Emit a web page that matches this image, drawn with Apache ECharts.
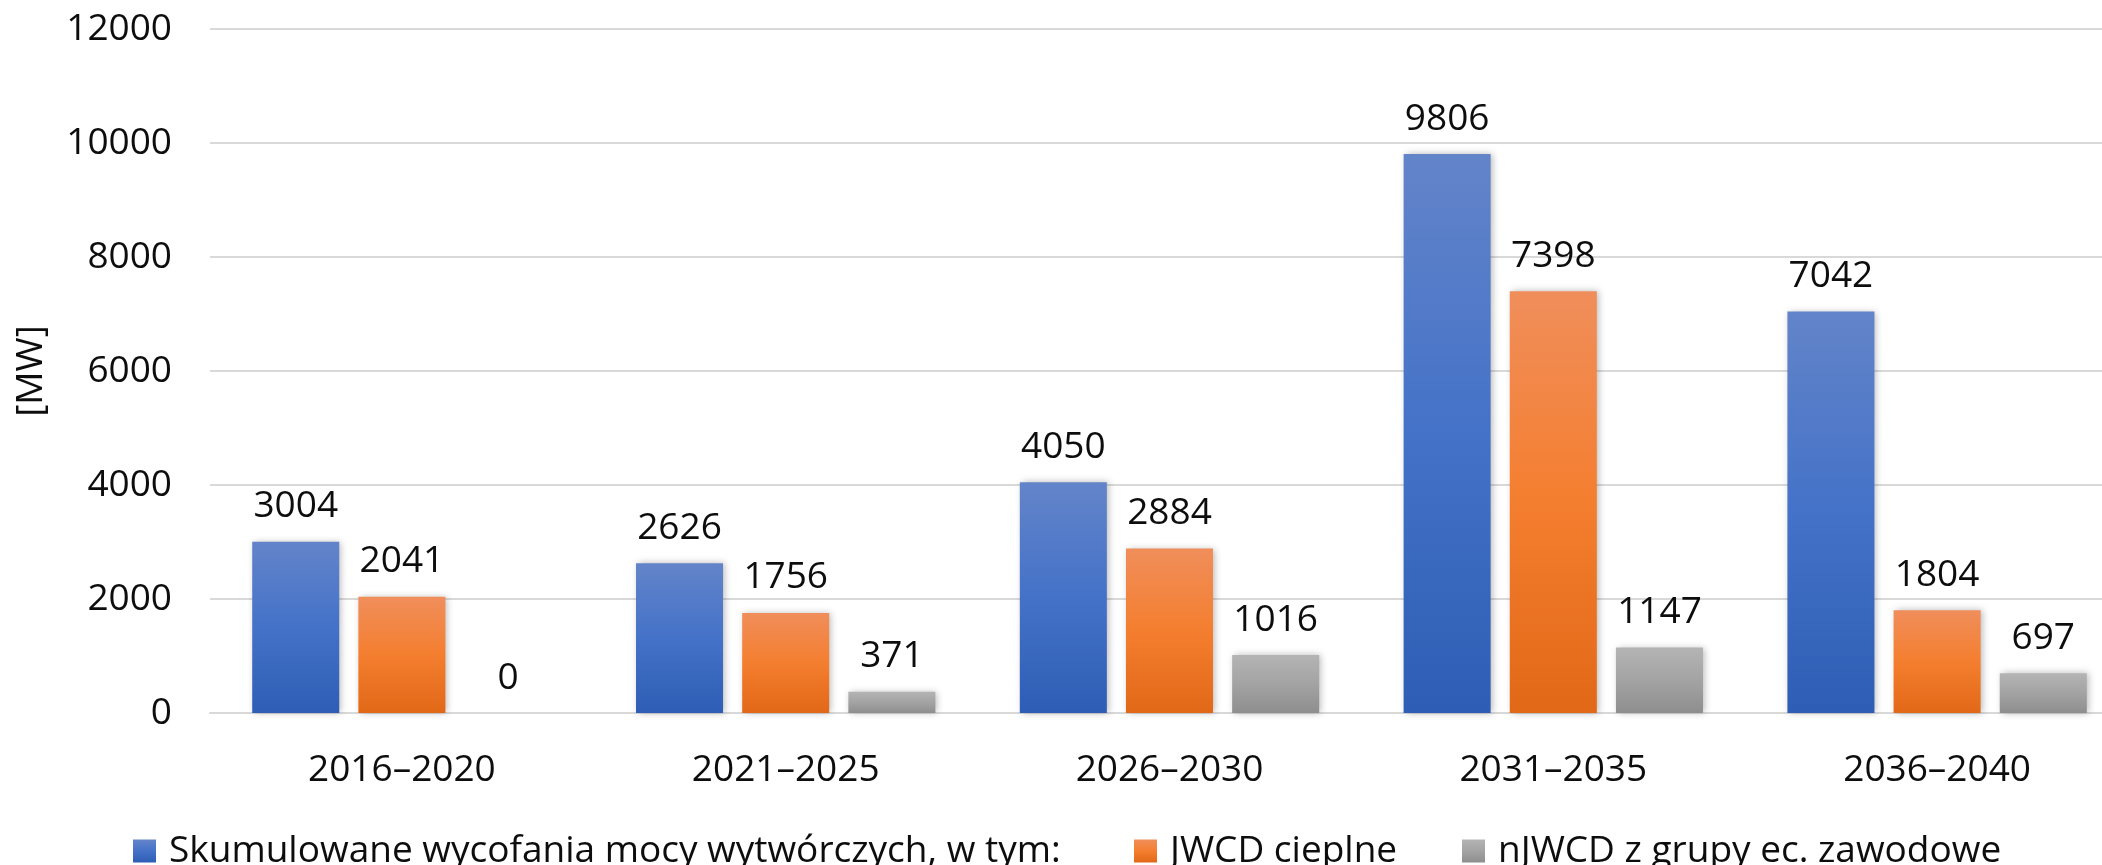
<!DOCTYPE html>
<html>
<head>
<meta charset="utf-8">
<script src="https://cdn.jsdelivr.net/npm/echarts@6/dist/echarts.min.js"></script>
<style>
  html, body { margin: 0; padding: 0; background: #ffffff; }
  #chart { width: 2102px; height: 865px; }
</style>
</head>
<body>
<div id="chart"></div>
<script>
// Periods (five-year windows)
const categories = ['2016–2020', '2021–2025', '2026–2030', '2031–2035', '2036–2040'];

// Series names
const nameTotal = 'Skumulowane wycofania mocy wytwórczych, w tym:';
const nameThermal = 'JWCD cieplne';
const nameOther = 'nJWCD z grupy ec. zawodowe';

// Retired capacity, MW
const totalValues = [3004, 2626, 4050, 9806, 7042];
const thermalValues = [2041, 1756, 2884, 7398, 1804];
const otherValues = [0, 371, 1016, 1147, 697];

// Value axis
const yMin = 0;
const yMax = 12000;
const yStep = 2000;
const yName = '[MW]';

const FONT = '"Open Sans", "Noto Sans", sans-serif';
const FS = 37;
const TXT = '#0d0d0d';

function vgrad(top, mid, bottom) {
  return new echarts.graphic.LinearGradient(0, 0, 0, 1, [
    { offset: 0, color: top },
    { offset: 0.5, color: mid },
    { offset: 1, color: bottom }
  ]);
}

const colors = {
  total: vgrad('#6384c9', '#4472c8', '#2e5db5'),
  thermal: vgrad('#f08e5b', '#f47e2f', '#e16817'),
  other: vgrad('#b4b4b4', '#a3a3a3', '#8e8e8e')
};

function barSeries(name, data, color) {
  return {
    name: name,
    type: 'bar',
    data: data,
    barGap: '22%',
    barCategoryGap: '22%',
    itemStyle: {
      color: color,
      shadowBlur: 7,
      shadowColor: 'rgba(0,0,0,0.28)',
      shadowOffsetX: 2,
      shadowOffsetY: 0
    },
    label: {
      show: true,
      position: 'top',
      distance: 15,
      fontFamily: FONT,
      fontSize: FS,
      lineHeight: 40,
      color: TXT
    },
    emphasis: { disabled: true }
  };
}

function legendAt(left, name) {
  return {
    data: [name],
    left: left,
    top: 826,
    orient: 'horizontal',
    itemWidth: 23,
    itemHeight: 23,
    icon: 'rect',
    selectedMode: false,
    textStyle: {
      fontFamily: FONT,
      fontSize: FS,
      lineHeight: 40,
      color: TXT,
      padding: [0, 0, 0, 8]
    }
  };
}

const chart = echarts.init(document.getElementById('chart'), null, { renderer: 'canvas' });

// The plot area runs slightly past the right edge of the canvas
chart.setOption({
  backgroundColor: '#ffffff',
  animation: false,
  grid: {
    left: 210,
    right: -27,
    top: 29,
    bottom: 152,
    containLabel: false,
    outerBoundsMode: 'none'
  },
  legend: [
    legendAt(128, nameTotal),
    legendAt(1129, nameThermal),
    legendAt(1457, nameOther)
  ],
  xAxis: {
    type: 'category',
    data: categories,
    axisLine: { show: true, lineStyle: { color: '#d9d9d9', width: 2 } },
    axisTick: { show: false },
    axisLabel: {
      margin: 37,
      fontFamily: FONT,
      fontSize: FS,
      lineHeight: 40,
      color: TXT
    }
  },
  yAxis: {
    type: 'value',
    min: yMin,
    max: yMax,
    interval: yStep,
    name: yName,
    nameLocation: 'middle',
    nameRotate: 90,
    nameGap: 160,
    nameTextStyle: { fontFamily: FONT, fontSize: FS, color: TXT },
    axisLine: { show: false },
    axisTick: { show: false },
    splitLine: { lineStyle: { color: '#d9d9d9', width: 2 } },
    axisLabel: {
      margin: 38,
      fontFamily: FONT,
      fontSize: FS,
      color: TXT,
      formatter: function (v) { return String(v); }
    }
  },
  series: [
    barSeries(nameTotal, totalValues, colors.total),
    barSeries(nameThermal, thermalValues, colors.thermal),
    barSeries(nameOther, otherValues, colors.other)
  ]
});
</script>
</body>
</html>
